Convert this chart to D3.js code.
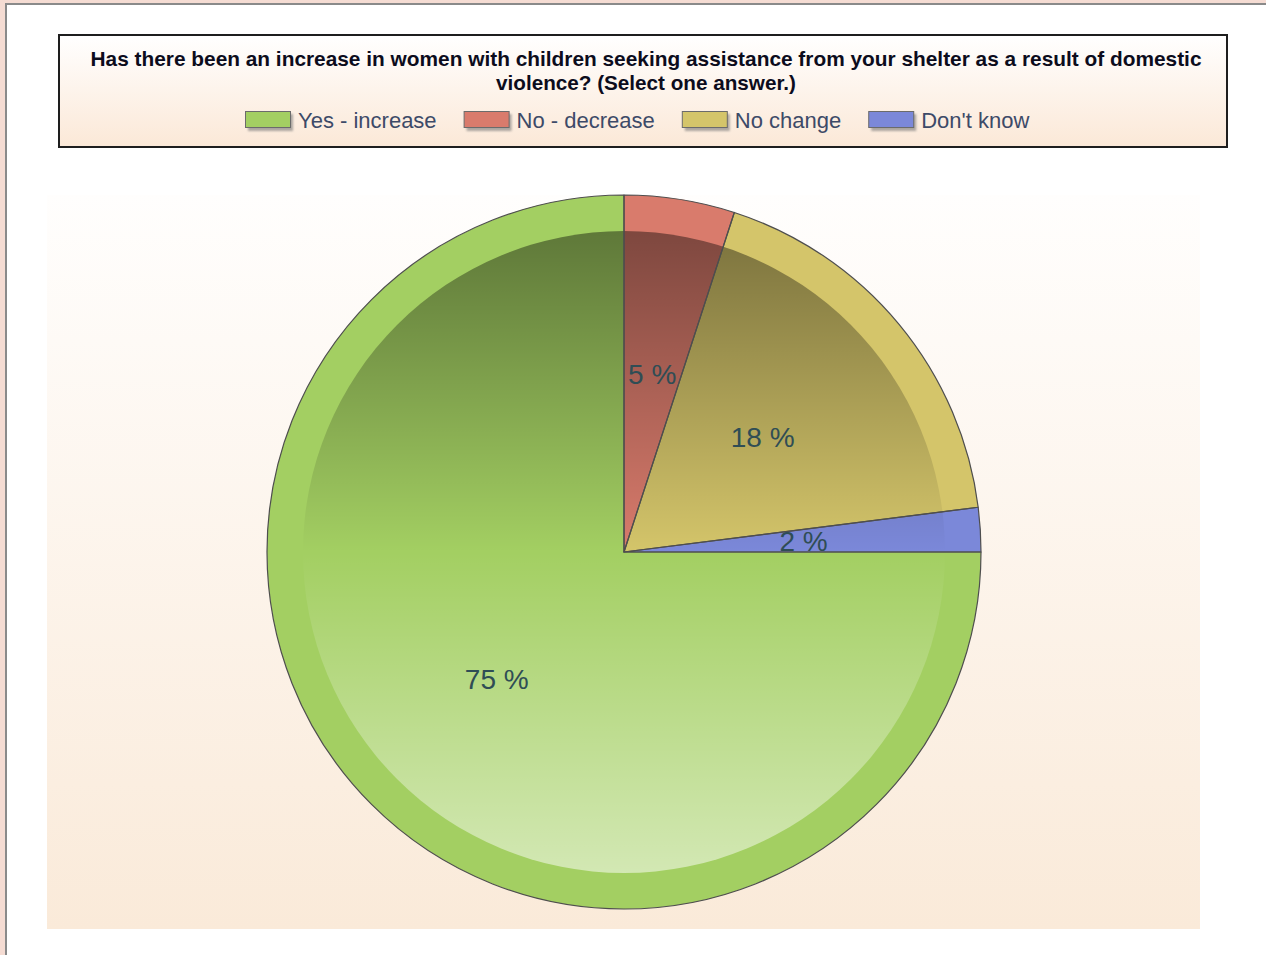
<!DOCTYPE html>
<meta charset="utf-8">
<title>Shelter survey - women with children</title>
<style>
body {
  margin: 0;
  background: #f5dcd3;
}
text {
  font-family: "Liberation Sans", Arial, sans-serif;
}
</style>
<body>
<div id="chart"></div>
<script src="https://d3js.org/d3.v7.min.js"></script>
<script>
// Data
const categories = ["Yes - increase", "No - decrease", "No change", "Don't know"];
const percents = [75, 5, 18, 2];
const colors = ["#a3cf62", "#d97b6c", "#d4c56a", "#7b88d9"];
const titleLines = [
  "Has there been an increase in women with children seeking assistance from your shelter as a result of domestic",
  "violence? (Select one answer.)"
];

const width = 1266;
const height = 955;

const svg = d3.select("#chart")
  .append("svg")
    .attr("width", width)
    .attr("height", height)
    .style("display", "block");

const defs = svg.append("defs");

// background gradients
function vGrad(id, top, bottom) {
  const g = defs.append("linearGradient")
      .attr("id", id)
      .attr("x1", 0).attr("y1", 0).attr("x2", 0).attr("y2", 1);
  g.append("stop").attr("offset", "0%").attr("stop-color", top);
  g.append("stop").attr("offset", "100%").attr("stop-color", bottom);
}
vGrad("titleBg", "#ffffff", "#fbe8d7");
vGrad("plotBg", "#fffefd", "#faead9");

// shading over the inner disc of the pie: dark at the top, light at the bottom
const shade = defs.append("linearGradient")
    .attr("id", "shade")
    .attr("gradientUnits", "userSpaceOnUse")
    .attr("x1", 0).attr("y1", -321).attr("x2", 0).attr("y2", 321);
[
  [0, "#000", 0.42],
  [0.5, "#000", 0],
  [0.5, "#fff", 0],
  [1, "#fff", 0.52]
].forEach(s => shade.append("stop")
    .attr("offset", s[0])
    .attr("stop-color", s[1])
    .attr("stop-opacity", s[2]));

const blur = defs.append("filter").attr("id", "blur")
    .attr("x", "-20%").attr("y", "-20%").attr("width", "140%").attr("height", "140%");
blur.append("feGaussianBlur").attr("stdDeviation", 1.2);

// window frame
svg.append("rect")
    .attr("x", 6).attr("y", 4)
    .attr("width", width).attr("height", height)
    .attr("fill", "#ffffff")
    .attr("stroke", "#8a8a8a")
    .attr("stroke-width", 2);

// title box
svg.append("rect")
    .attr("x", 59).attr("y", 35)
    .attr("width", 1168).attr("height", 112)
    .attr("fill", "url(#titleBg)")
    .attr("stroke", "#1e1e1e")
    .attr("stroke-width", 2);

const titleWidths = [1111, 300];
svg.selectAll("text.title")
  .data(titleLines)
  .enter().append("text")
    .attr("class", "title")
    .attr("x", 646)
    .attr("y", (d, i) => 66 + i * 24)
    .attr("text-anchor", "middle")
    .attr("textLength", (d, i) => titleWidths[i])
    .attr("lengthAdjust", "spacingAndGlyphs")
    .style("font-size", "21px")
    .style("font-weight", "bold")
    .style("fill", "#0c0c1c")
    .text(d => d);

// legend
const legend = svg.append("g");
let lx = 245;
categories.forEach((c, i) => {
  const g = legend.append("g").attr("transform", `translate(${lx},0)`);
  g.append("rect")
      .attr("x", 3).attr("y", 114)
      .attr("width", 45).attr("height", 17)
      .attr("fill", "#777")
      .attr("opacity", 0.6)
      .attr("filter", "url(#blur)");
  g.append("rect")
      .attr("x", 0.5).attr("y", 111.5)
      .attr("width", 45).attr("height", 16)
      .attr("fill", colors[i])
      .attr("stroke", "#6b6b6b")
      .attr("stroke-width", 1);
  const t = g.append("text")
      .attr("x", 53)
      .attr("y", 128)
      .style("font-size", "22px")
      .style("fill", "#3d4a68")
      .text(c);
  lx += 53 + t.node().getComputedTextLength() + 27;
});

// plot area
svg.append("rect")
    .attr("x", 47).attr("y", 195)
    .attr("width", 1153).attr("height", 734)
    .attr("fill", "url(#plotBg)");

// pie
const radius = 357;
const innerR = 321;
const pie = d3.pie()
    .sort(null)
    .value(d => d)
    .startAngle(Math.PI / 2)
    .endAngle(Math.PI / 2 + 2 * Math.PI);
const arcs = pie(percents);

const arc = d3.arc().innerRadius(0).outerRadius(radius);
const labelArc = d3.arc().innerRadius(180).outerRadius(180);

const g = svg.append("g").attr("transform", "translate(624,552)");

g.selectAll("path.slice")
  .data(arcs)
  .enter().append("path")
    .attr("class", "slice")
    .attr("d", arc)
    .attr("fill", (d, i) => colors[i]);

g.append("circle")
    .attr("r", innerR)
    .attr("fill", "url(#shade)");

g.selectAll("path.outline")
  .data(arcs)
  .enter().append("path")
    .attr("class", "outline")
    .attr("d", arc)
    .attr("fill", "none")
    .attr("stroke", "#4e4e4e")
    .attr("stroke-width", 1.2)
    .attr("stroke-linejoin", "round");

g.selectAll("text.label")
  .data(arcs)
  .enter().append("text")
    .attr("class", "label")
    .attr("transform", d => `translate(${labelArc.centroid(d)})`)
    .attr("text-anchor", "middle")
    .attr("dy", "0.36em")
    .style("font-size", "28px")
    .style("fill", "#2f4d55")
    .text(d => d.data + " %");
</script>
</body>
</html>
